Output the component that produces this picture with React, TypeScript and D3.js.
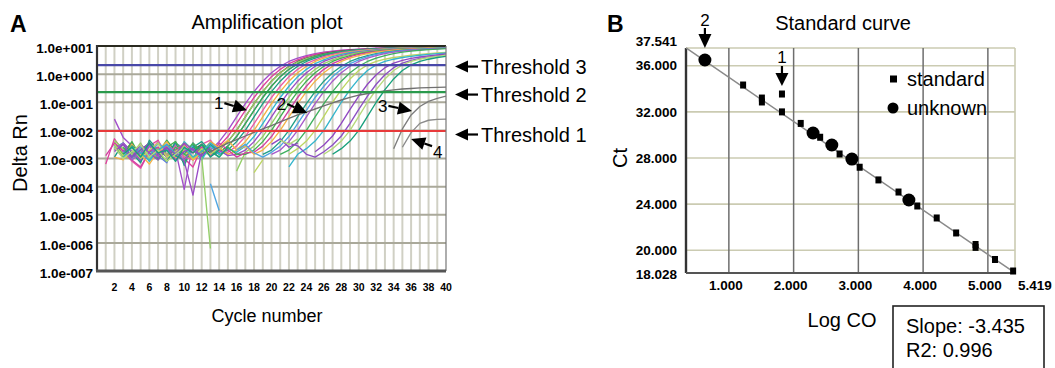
import React from 'react';
import * as d3 from 'd3';

const N = null;
const gap = (n: number) => Array(n).fill(null);

// ---- panel A: amplification plot ----
const cycleNumbers = d3.range(1, 41);
const cycleTicks = d3.range(2, 41, 2);
const decadeExps = [1, 0, -1, -2, -3, -4, -5, -6, -7];
const decadeLabels = ['1.0e+001', '1.0e+000', '1.0e-001', '1.0e-002', '1.0e-003', '1.0e-004', '1.0e-005', '1.0e-006', '1.0e-007'];

// threshold levels (Delta Rn)
const thresholdValues = [2.1, 0.23, 0.0095];
const thresholdNames = ['Threshold 3', 'Threshold 2', 'Threshold 1'];
const thresholdColors = ['#4848a8', '#2a9a4c', '#e83a3a'];

// log10(Delta Rn) per cycle 1..40, one array per well
const well01 = [N, -1.6, -2.25, -2.55, -2.95, -2.45, -2.85, -2.5, -2.7, -4.1, -2.45, -2.85, -2.7, -2.4, -2.0, -1.52, -1.05, -0.62, -0.25, 0.05, 0.28, 0.45, 0.57, 0.66, 0.73, 0.78, 0.82, 0.85, 0.87, 0.89, 0.905, 0.92, 0.93, 0.94, 0.95, 0.958, 0.965, 0.97, 0.975, 0.98];
const well02 = [-3.2, -2.3, -2.75, -2.45, -3.05, -2.55, -2.35, -2.9, -2.5, -3.0, -3.3, -2.6, -2.78, -2.56, -2.22, -1.76, -1.29, -0.83, -0.43, -0.09, 0.17, 0.37, 0.51, 0.62, 0.7, 0.76, 0.8, 0.835, 0.86, 0.88, 0.898, 0.912, 0.925, 0.935, 0.945, 0.954, 0.962, 0.968, 0.972, 0.978];
const well03 = [...gap(10), -2.7, -2.5, -2.85, -2.7, -2.4, -2.0, -1.52, -1.05, -0.62, -0.25, 0.05, 0.28, 0.45, 0.57, 0.66, 0.73, 0.78, 0.82, 0.85, 0.87, 0.89, 0.905, 0.92, 0.93, 0.94, 0.95, 0.958, 0.965, 0.97, 0.975];
const well04 = [N, -2.4, -2.9, -3.05, -2.6, -2.95, -2.4, -2.85, -2.55, -2.95, -2.6, -2.8, -2.85, -2.7, -2.4, -2.0, -1.52, -1.05, -0.62, -0.25, 0.04, 0.26, 0.43, 0.55, 0.64, 0.7, 0.75, 0.79, 0.82, 0.845, 0.865, 0.88, 0.895, 0.905, 0.915, 0.925, 0.93, 0.94, 0.945, 0.95];
const well05 = [N, N, -2.95, -2.55, -3.1, -2.7, -2.9, -3.15, -2.45, -2.65, -3.05, -2.6, -2.9, -2.78, -2.56, -2.22, -1.76, -1.29, -0.83, -0.43, -0.09, 0.17, 0.37, 0.51, 0.62, 0.7, 0.76, 0.8, 0.835, 0.86, 0.88, 0.898, 0.912, 0.925, 0.935, 0.945, 0.954, 0.962, 0.968, 0.972];
const well06 = [N, -2.5, -2.85, -2.4, -2.95, -2.5, -2.8, -2.35, -2.75, -3.15, -2.5, -2.85, -2.45, -2.78, -2.56, -2.22, -1.76, -1.29, -0.83, -0.43, -0.09, 0.17, 0.37, 0.51, 0.62, 0.7, 0.76, 0.8, 0.835, 0.86, 0.88, 0.898, 0.912, 0.925, 0.935, 0.945, 0.954, 0.962, 0.968, 0.972];
const well07 = [N, -2.95, -2.45, -2.8, -3.15, -2.35, -2.7, -2.95, -2.4, -3.25, -2.55, -3.0, -2.5, -2.85, -2.7, -2.4, -2.0, -1.52, -1.05, -0.62, -0.25, 0.05, 0.28, 0.45, 0.57, 0.66, 0.73, 0.78, 0.82, 0.85, 0.87, 0.89, 0.905, 0.92, 0.93, 0.94, 0.95, 0.958, 0.965, 0.97];
const well08 = [N, N, -2.7, -3.1, -3.35, -2.75, -2.4, -2.9, -2.55, -2.95, -3.05, -2.5, -2.35, -2.75, -2.78, -2.56, -2.22, -1.76, -1.29, -0.83, -0.43, -0.09, 0.17, 0.37, 0.51, 0.62, 0.7, 0.76, 0.8, 0.835, 0.86, 0.88, 0.898, 0.912, 0.925, 0.935, 0.945, 0.954, 0.962, 0.968];
const well09 = [N, N, -2.85, -2.95, -2.6, -3.05, -2.7, -2.4, -2.85, -2.55, -3.05, -2.8, -2.4, -2.6, -2.85, -2.7, -2.4, -2.0, -1.52, -1.05, -0.62, -0.25, 0.05, 0.28, 0.45, 0.57, 0.66, 0.73, 0.78, 0.82, 0.85, 0.87, 0.89, 0.905, 0.92, 0.93, 0.94, 0.95, 0.958, 0.965];
const well10 = [N, -2.6, -2.45, -2.95, -2.7, -3.1, -2.75, -2.5, -2.95, -2.4, -2.7, -3.05, -2.55, -2.85, -2.65, -2.78, -2.56, -2.22, -1.76, -1.29, -0.83, -0.43, -0.09, 0.17, 0.37, 0.51, 0.62, 0.7, 0.76, 0.8, 0.835, 0.86, 0.88, 0.898, 0.912, 0.925, 0.935, 0.945, 0.954, 0.962];
const well11 = [N, N, -2.45, -2.75, -3.05, -2.55, -2.9, -2.7, -2.85, -3.1, -4.3, -2.75, -2.45, -2.7, -2.9, -2.85, -2.7, -2.4, -2.0, -1.52, -1.05, -0.62, -0.25, 0.05, 0.28, 0.45, 0.57, 0.66, 0.73, 0.78, 0.82, 0.85, 0.87, 0.89, 0.905, 0.92, 0.93, 0.94, 0.95, 0.958];
const well12 = [N, -2.35, -2.65, -2.85, -2.45, -3.0, -2.6, -2.9, -2.7, -2.45, -2.65, -2.95, -6.2, N, N, -3.45, -2.78, -2.56, -2.22, -1.76, -1.29, -0.83, -0.43, -0.09, 0.17, 0.37, 0.51, 0.62, 0.7, 0.76, 0.8, 0.835, 0.86, 0.88, 0.898, 0.912, 0.925, 0.935, 0.945, 0.954];
const well13 = [N, N, -2.8, -2.5, -2.95, -2.7, -3.05, -2.6, -2.4, -2.85, -3.0, -2.5, -2.7, -2.95, -2.6, -2.85, -2.85, -2.7, -2.4, -2.0, -1.52, -1.05, -0.62, -0.25, 0.05, 0.28, 0.45, 0.57, 0.66, 0.73, 0.78, 0.82, 0.85, 0.87, 0.89, 0.905, 0.92, 0.93, 0.94, 0.95];
const well14 = [-2.9, -2.45, -2.75, -3.05, -3.3, -2.75, -2.6, -2.95, -2.7, -2.5, -2.8, -2.6, -2.9, -2.45, -2.7, -2.95, -2.8, -2.78, -2.56, -2.22, -1.76, -1.29, -0.83, -0.43, -0.09, 0.17, 0.37, 0.51, 0.62, 0.7, 0.76, 0.8, 0.835, 0.86, 0.88, 0.898, 0.912, 0.925, 0.935, 0.945];
const well15 = [N, -2.95, -3.05, -2.5, -2.85, -3.2, -2.75, -2.55, -3.0, -2.7, -3.05, -2.75, -2.45, -2.6, -2.35, -2.7, -2.55, -2.85, -2.7, -2.4, -2.0, -1.52, -1.05, -0.62, -0.25, 0.05, 0.28, 0.45, 0.57, 0.66, 0.73, 0.78, 0.82, 0.85, 0.87, 0.89, 0.905, 0.92, 0.93, 0.94];
const well16 = [N, -2.6, -2.95, -2.55, -2.8, -2.45, -3.0, -2.7, -2.9, -3.05, -2.6, -2.4, -2.75, -2.95, -2.6, N, N, N, -2.85, -2.7, -2.4, -2.0, -1.52, -1.05, -0.62, -0.25, 0.05, 0.28, 0.45, 0.57, 0.66, 0.73, 0.78, 0.82, 0.85, 0.87, 0.89, 0.905, 0.92, 0.93];
const well17 = [N, N, -2.75, -3.0, -2.6, -2.9, -2.45, -2.7, -3.05, -2.75, -2.55, N, -3.9, -4.85, N, -2.7, -2.5, -2.8, -2.95, -2.78, -2.56, -2.22, -1.76, -1.29, -0.83, -0.43, -0.09, 0.17, 0.37, 0.51, 0.62, 0.7, 0.76, 0.8, 0.835, 0.86, 0.88, 0.898, 0.912, 0.925];
const well18 = [N, -2.7, -2.45, -3.05, -2.8, -2.55, -2.95, -2.5, -2.75, -3.05, -2.65, -2.9, ...gap(7), -2.85, -2.7, -2.4, -2.0, -1.52, -1.05, -0.62, -0.25, 0.05, 0.28, 0.45, 0.57, 0.66, 0.73, 0.78, 0.82, 0.85, 0.87, 0.89, 0.905, 0.92];
const well19 = [N, N, -2.6, -2.95, -2.7, -2.45, -2.8, -3.1, -2.6, -2.85, -2.45, -2.75, -2.65, ...gap(7), -2.85, -2.7, -2.4, -2.0, -1.52, -1.05, -0.62, -0.25, 0.05, 0.28, 0.45, 0.57, 0.66, 0.73, 0.78, 0.82, 0.85, 0.87, 0.89, 0.905];
const well20 = [N, -2.5, -2.9, -2.6, -3.0, -2.7, -2.45, -2.95, -2.75, -2.55, -3.0, -2.65, -2.85, -2.6, N, N, N, -3.5, -3.05, N, N, -2.85, -2.65, -2.38, -2.0, -1.5, -1.0, -0.55, -0.17, 0.13, 0.33, 0.45, 0.53, 0.59, 0.63, 0.67, 0.7, 0.73, 0.75, 0.77];
const well21 = [N, N, -2.95, -2.6, -2.8, -3.05, -2.7, -2.5, -2.85, -2.6, -2.95, -2.75, -2.45, -2.7, ...gap(7), -3.3, -2.85, -2.65, -2.38, -2.0, -1.5, -1.0, -0.55, -0.17, 0.13, 0.33, 0.45, 0.53, 0.59, 0.63, 0.67, 0.7, 0.73, 0.75];
const well22 = [N, -2.75, -2.5, -2.95, -2.7, -2.45, -2.85, -2.6, -3.05, -2.75, -2.65, -2.9, -2.6, ...gap(6), -2.5, -2.3, -2.6, -2.45, N, -2.76, -2.52, -2.2, -1.75, -1.25, -0.78, -0.36, -0.02, 0.23, 0.39, 0.49, 0.56, 0.61, 0.65, 0.685, 0.715];
const well23 = [N, N, -2.7, -2.95, -2.5, -2.8, -3.05, -2.6, -2.85, -2.45, -2.7, -2.95, ...gap(9), -2.45, -2.55, -2.85, -2.95, -2.76, -2.52, -2.2, -1.75, -1.25, -0.78, -0.36, -0.02, 0.23, 0.39, 0.49, 0.56, 0.61, 0.65, 0.685];
const well24 = [N, -2.6, -3.0, -2.75, -2.5, -2.95, -2.7, -3.1, -2.85, -2.6, ...gap(10), -2.35, -2.5, -2.3, N, N, -2.85, -2.65, -2.38, -2.0, -1.5, -1.0, -0.55, -0.17, 0.13, 0.33, 0.45, 0.53, 0.59, 0.63, 0.67];
const well25 = [N, N, -2.85, -2.6, -2.95, -2.45, -2.8, -2.7, -3.1, -2.6, -2.8, -2.5, -2.95, -2.7, ...gap(12), -2.85, -2.65, -2.38, -2.0, -1.5, -1.0, -0.55, -0.17, 0.13, 0.33, 0.45, 0.53, 0.59, 0.63];
const well26 = [...gap(12), -2.75, -2.6, -2.45, -2.33, -2.2, -2.07, -1.95, -1.83, -1.7, -1.57, -1.45, -1.35, -1.24, -1.13, -1.02, -0.92, -0.83, -0.75, -0.69, -0.64, -0.6, -0.56, -0.53, -0.51, -0.49, -0.48, -0.47, -0.46];
const well27 = [...gap(33), -2.65, -1.95, -1.45, -1.15, -0.97, -0.86, -0.78];
const well28 = [...gap(34), -2.6, -2.08, -1.75, -1.64, -1.61, -1.6];

const wellSeries = [well01, well02, well03, well04, well05, well06, well07, well08, well09, well10, well11, well12, well13, well14, well15, well16, well17, well18, well19, well20, well21, well22, well23, well24, well25, well26, well27, well28];
const wellColors = ['#a24fcb', '#de3f9e', '#4d4d4d', '#9acb5e', '#5b7bd9', '#3dae4b', '#1c9c84', '#e95aa9', '#f2b142', '#2fb7cf', '#9a4bc5', '#94cf68', '#42b052', '#d23ea2', '#f4b347', '#20a087', '#4ea6e2', '#a659ca', '#3fb05f', '#bcd661', '#34b5cc', '#9048c2', '#8c4fc4', '#b5d97a', '#17a07c', '#707070', '#7c7c7c', '#8a8a8a'];

// numbered arrows: [label, tail cycle, tail log, tip cycle, tip log]
const ampArrows: [string, number, number, number, number][] = [
  ['1', 14.6, -1.03, 17.2, -1.28],
  ['2', 21.8, -1.06, 24.1, -1.38],
  ['3', 33.4, -1.13, 36.1, -1.31],
  ['4', 38.4, -2.56, 36.0, -2.31],
];

// ---- panel B: standard curve ----
const logCoDomain = [0.338, 5.419];
const ctDomain = [18.028, 37.541];
const logCoTicks = [1, 2, 3, 4, 5];
const ctTicks = [20, 24, 28, 32, 36];
const standardLogCo = [1.22, 1.51, 1.51, 1.82, 1.82, 2.11, 2.41, 2.71, 3.02, 3.31, 3.62, 3.91, 4.21, 4.51, 4.81, 4.81, 5.11, 5.39];
const standardCt = [34.33, 33.2, 32.86, 33.55, 32.0, 31.0, 29.8, 28.35, 27.2, 26.1, 25.05, 23.84, 22.8, 21.5, 20.5, 20.25, 19.2, 18.2];
const unknownLogCo = [0.63, 2.3, 2.59, 2.9, 3.78];
const unknownCt = [36.5, 30.17, 29.13, 27.91, 24.36];
const fitSlope = -3.84;
const fitIntercept = 38.84;
const statLines = ['Slope: -3.435', 'R2: 0.996'];

const FONT = '"Liberation Sans", Arial, Helvetica, sans-serif';

function Arrow({ x1, y1, x2, y2, head = 14, half = 6.5 }: { x1: number; y1: number; x2: number; y2: number; head?: number; half?: number }) {
  const a = Math.atan2(y2 - y1, x2 - x1);
  const bx = x2 - head * Math.cos(a);
  const by = y2 - head * Math.sin(a);
  const px = -Math.sin(a) * half;
  const py = Math.cos(a) * half;
  return (
    <g>
      <line x1={x1} y1={y1} x2={bx} y2={by} stroke="#000" strokeWidth={2.2} />
      <path d={`M${x2},${y2}L${bx + px},${by + py}L${bx - px},${by - py}Z`} fill="#000" />
    </g>
  );
}

function AmplificationPlot() {
  const L = 97, R = 446, T = 46, B = 271;
  const x = d3.scaleLinear().domain([0, 40]).range([L, R]);
  const y = d3.scaleLog().domain([1e-7, 10]).range([B, T]);
  const line = d3
    .line<number | null>()
    .defined((d) => d !== null)
    .x((_, i) => x(cycleNumbers[i]))
    .y((d) => y(Math.pow(10, d as number)));

  return (
    <g fontFamily={FONT}>
      <text x={10} y={32} fontSize={23} fontWeight="bold">A</text>
      <text x={267} y={29} fontSize={20} textAnchor="middle">Amplification plot</text>
      <rect x={L} y={T} width={R - L} height={B - T} fill="#fff" />
      <defs>
        <clipPath id="ampClip">
          <rect x={L} y={T - 1} width={R - L} height={B - T + 2} />
        </clipPath>
      </defs>
      {cycleNumbers.slice(0, -1).map((c) => (
        <line key={c} x1={x(c)} x2={x(c)} y1={T} y2={B} stroke="#d0d0c4" strokeWidth={2} />
      ))}
      {decadeExps.slice(1, -1).map((e) => (
        <line key={e} x1={L} x2={R} y1={y(Math.pow(10, e))} y2={y(Math.pow(10, e))} stroke="#aaa99a" strokeWidth={2} />
      ))}
      <g clipPath="url(#ampClip)" fill="none" strokeWidth={1.35} strokeLinejoin="round">
        {wellSeries.map((s, i) => (
          <path key={i} d={line(s) || ''} stroke={wellColors[i]} />
        ))}
      </g>
      {thresholdValues.map((v, i) => (
        <line key={i} x1={L} x2={R} y1={y(v)} y2={y(v)} stroke={thresholdColors[i]} strokeWidth={2.2} />
      ))}
      <line x1={L} x2={R} y1={T} y2={T} stroke="#2a2a20" strokeWidth={2} />
      <line x1={R} x2={R} y1={T} y2={B} stroke="#777" strokeWidth={1.2} />
      <line x1={L} x2={L} y1={T - 1} y2={B} stroke="#333" strokeWidth={2.2} />
      <line x1={L - 1} x2={R} y1={B} y2={B} stroke="#555" strokeWidth={3} />
      {decadeExps.map((e, i) => (
        <text key={e} x={L - 4} y={y(Math.pow(10, e)) + 2} dy="0.35em" fontSize={13.5} fontWeight="bold" textAnchor="end">
          {decadeLabels[i]}
        </text>
      ))}
      {cycleTicks.map((c) => (
        <text key={c} x={x(c)} y={291} fontSize={10.5} fontWeight="bold" textAnchor="middle">{c}</text>
      ))}
      <text transform="translate(27,153) rotate(-90)" fontSize={20} textAnchor="middle">Delta Rn</text>
      <text x={267} y={322} fontSize={18} textAnchor="middle">Cycle number</text>
      {ampArrows.map(([lab, c1, v1, c2, v2]) => {
        const x1 = x(c1), y1 = y(Math.pow(10, v1)), x2 = x(c2), y2 = y(Math.pow(10, v2));
        const right = x2 < x1;
        return (
          <g key={lab}>
            <Arrow x1={x1} y1={y1} x2={x2} y2={y2} head={14} half={6.5} />
            <text x={right ? x1 + 1 : x1 - 1} y={right ? y1 + 12 : y1 + 6} fontSize={17} textAnchor={right ? 'start' : 'end'}>{lab}</text>
          </g>
        );
      })}
      {thresholdValues.map((v, i) => {
        const ty = y(v) + 1.5 + i * 1;
        return (
          <g key={i}>
            <Arrow x1={R + 32} y1={ty} x2={R + 9} y2={ty} head={13} half={6} />
            <text x={R + 35} y={ty + 7} fontSize={20}>{thresholdNames[i]}</text>
          </g>
        );
      })}
    </g>
  );
}

function StandardCurve() {
  const L = 686, R = 1015, T = 48, B = 273;
  const x = d3.scaleLinear().domain(logCoDomain).range([L, R]);
  const y = d3.scaleLinear().domain(ctDomain).range([B, T]);
  const fmt = d3.format('.3f');
  const fit = (v: number) => fitIntercept + fitSlope * v;
  const outlier = 3;
  return (
    <g fontFamily={FONT}>
      <text x={607} y={32} fontSize={23} fontWeight="bold">B</text>
      <text x={843} y={30} fontSize={20} textAnchor="middle">Standard curve</text>
      {ctTicks.map((t) => (
        <line key={t} x1={L} x2={R} y1={y(t)} y2={y(t)} stroke="#cbcbb2" strokeWidth={1.6} />
      ))}
      <line x1={L} x2={R} y1={T} y2={T} stroke="#cbcbb2" strokeWidth={1.6} />
      <line x1={R} x2={R} y1={T} y2={B} stroke="#cbcbb2" strokeWidth={1.6} />
      {logCoTicks.map((t) => (
        <line key={t} x1={x(t)} x2={x(t)} y1={T} y2={B} stroke="#6e6e6e" strokeWidth={1.5} />
      ))}
      <line x1={L} x2={L} y1={T} y2={B} stroke="#333" strokeWidth={2.4} />
      <line x1={L} x2={R} y1={B} y2={B} stroke="#555" strokeWidth={2} />
      <line x1={x(logCoDomain[0])} y1={y(fit(logCoDomain[0]))} x2={x(logCoDomain[1])} y2={y(fit(logCoDomain[1]))} stroke="#8a8a8a" strokeWidth={1.5} />
      {standardLogCo.map((v, i) => (
        <rect key={i} x={x(v) - 3} y={y(standardCt[i]) - 3.5} width={6} height={7} fill="#000" />
      ))}
      {unknownLogCo.map((v, i) => (
        <circle key={i} cx={x(v)} cy={y(unknownCt[i])} r={6.5} fill="#000" />
      ))}
      {ctTicks.map((t) => (
        <text key={t} x={L - 9} y={y(t)} dy="0.35em" fontSize={13.5} fontWeight="bold" textAnchor="end">{fmt(t)}</text>
      ))}
      <text x={L - 9} y={T - 7} dy="0.35em" fontSize={13.5} fontWeight="bold" textAnchor="end">{fmt(ctDomain[1])}</text>
      <text x={L - 9} y={B + 1} dy="0.35em" fontSize={13.5} fontWeight="bold" textAnchor="end">{fmt(ctDomain[0])}</text>
      {logCoTicks.map((t) => (
        <text key={t} x={x(t) - 3} y={290} fontSize={13.5} fontWeight="bold" textAnchor="middle">{fmt(t)}</text>
      ))}
      <text x={R + 3} y={290} fontSize={13.5} fontWeight="bold">{fmt(logCoDomain[1])}</text>
      <text transform="translate(627,158) rotate(-90)" fontSize={20} textAnchor="middle">Ct</text>
      <text x={842} y={327} fontSize={20} textAnchor="middle">Log CO</text>
      {/* numbered arrows */}
      <text x={x(unknownLogCo[0])} y={26} fontSize={17} textAnchor="middle">2</text>
      <Arrow x1={x(unknownLogCo[0])} y1={28} x2={x(unknownLogCo[0])} y2={y(unknownCt[0]) - 12} head={14} half={6.5} />
      <text x={x(standardLogCo[outlier])} y={63} fontSize={17} textAnchor="middle">1</text>
      <Arrow x1={x(standardLogCo[outlier])} y1={66} x2={x(standardLogCo[outlier])} y2={y(standardCt[outlier]) - 8} head={13} half={6.5} />
      {/* legend */}
      <rect x={890} y={75.5} width={7} height={7} fill="#000" />
      <text x={907} y={86} fontSize={20}>standard</text>
      <circle cx={893} cy={108} r={5.5} fill="#000" />
      <text x={907} y={115} fontSize={20}>unknown</text>
      {/* stats box */}
      <rect x={893} y={306} width={151} height={80} fill="#fff" stroke="#222" strokeWidth={1.6} />
      {statLines.map((s, i) => (
        <text key={i} x={906} y={333 + i * 24} fontSize={20}>{s}</text>
      ))}
    </g>
  );
}

export default function App() {
  return (
    <svg width={1055} height={368} style={{ position: 'absolute', left: 0, top: 0, background: '#fff' }}>
      <rect width={1055} height={368} fill="#fff" />
      <AmplificationPlot />
      <StandardCurve />
    </svg>
  );
}
